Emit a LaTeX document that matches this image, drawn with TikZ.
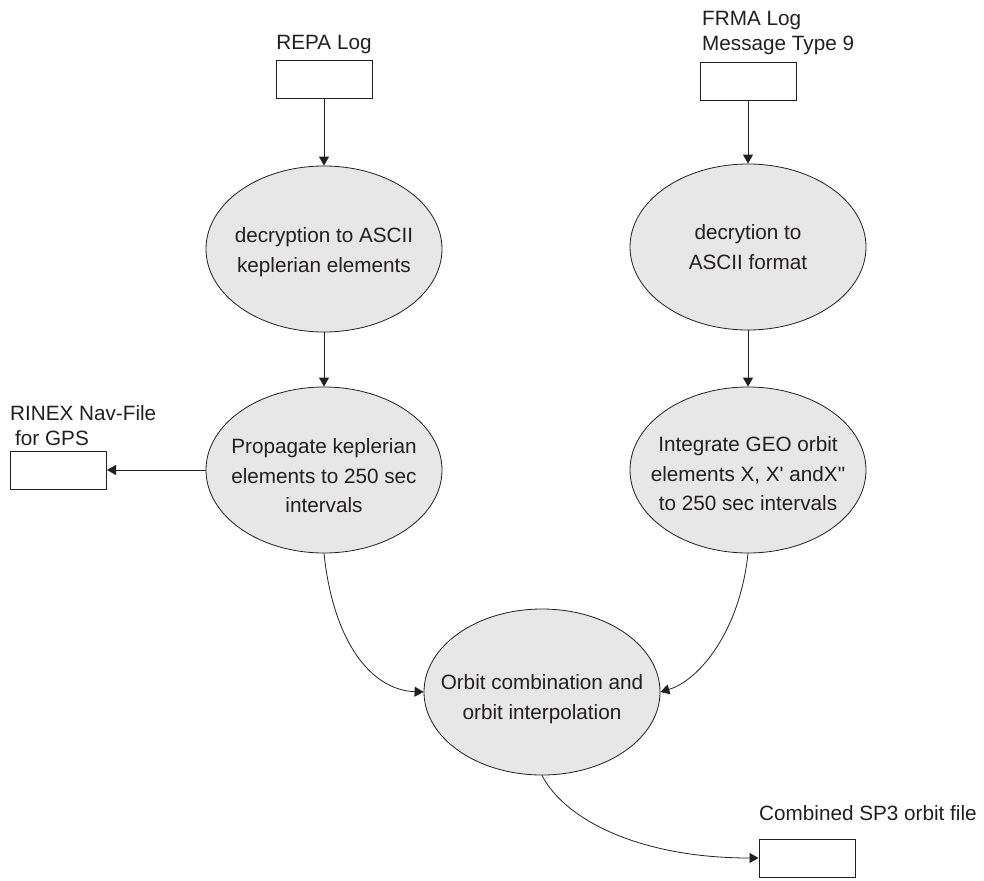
\documentclass[tikz,border=0pt]{standalone}
\usepackage{fontspec}
\setmainfont{Liberation Sans}
\usetikzlibrary{shapes.geometric,arrows.meta}
\definecolor{ink}{HTML}{231F20}
\definecolor{bubble}{HTML}{E6E7E6}
\begin{document}
\begin{tikzpicture}[x=1pt,y=-1pt,
  every node/.style={text=ink},
  proc/.style={ellipse, draw=ink, line width=0.8pt, fill=bubble,
    minimum width=236pt, minimum height=166pt, inner sep=0pt},
  proctext/.style={align=center, font=\fontsize{20.7}{29.5}\selectfont, inner sep=0pt},
  filebox/.style={rectangle, draw=ink, line width=1pt, fill=white,
    minimum width=96pt, minimum height=38pt, inner sep=0pt},
  tag/.style={font=\fontsize{20.7}{25}\selectfont, inner sep=0pt, align=left},
  flow/.style={draw=ink, line width=0.8pt, -{Triangle[length=9pt,width=10pt]}},
]
\useasboundingbox (0,0) rectangle (984,880);

% input logs
\node[filebox] (repa) at (324,80) {};
\node[tag, anchor=base] (repaname) at (324,49.4) {REPA Log};
\node[filebox] (frma) at (748,82) {};
\node[tag, anchor=north west] (frmaname) at (702,10.6) {FRMA Log\\Message Type 9};

% processing steps
\node[proc] (e1) at (324,249) {};
\node[proc] (e2) at (748,247) {};
\node[proc] (e3) at (324,470) {};
\node[proc] (e4) at (748,470) {};
\node[proc] (e5) at (542,692) {};

\node[proctext, yshift=-3pt] at (e1) {decryption to ASCII\\keplerian elements};
\node[proctext] at (e2) {decrytion to\\ASCII format};
\node[proctext, yshift=-6pt] at (e3) {Propagate keplerian\\elements to 250 sec\\intervals};
\node[proctext, yshift=-4pt] at (e4) {Integrate GEO orbit\\elements X, X\textquotesingle{} andX\textquotedbl\\to 250 sec intervals};
\node[proctext, yshift=-7pt] at (e5) {Orbit combination and\\orbit interpolation};

% output files
\node[filebox] (rinex) at (58.5,470) {};
\node[tag, anchor=north west] (rinexname) at (10,405.6) {RINEX Nav-File\\\hspace*{5pt}for GPS};
\node[filebox] (sp3) at (807,858) {};
\node[tag, anchor=base west] (sp3name) at (759,820.4) {Combined SP3 orbit file};

% connectors
\draw[flow] (repa.south) -- (e1.north);
\draw[flow] (frma.south) -- (e2.north);
\draw[flow] (e1.south) -- (e3.north);
\draw[flow] (e2.south) -- (e4.north);
\draw[flow] (e3.west) -- (rinex.east);
\draw[flow] (e3.south) .. controls (333,640) and (370,690) .. (e5.west);
\draw[flow] (e4.south) .. controls (740,630) and (700,680) .. (e5.east);
\draw[flow] (e5.south) .. controls (565,820) and (640,858) .. (sp3.west);
\end{tikzpicture}
\end{document}
